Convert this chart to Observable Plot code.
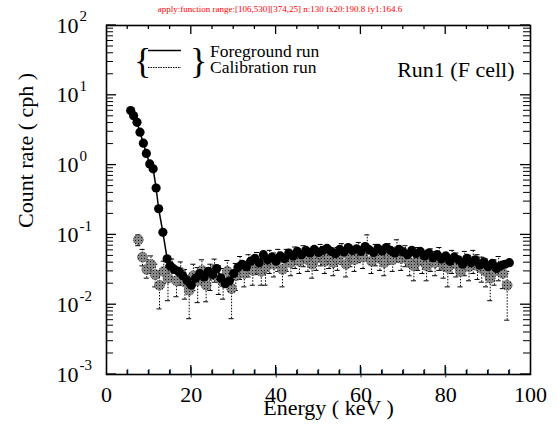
<!DOCTYPE html>
<html>
<head>
<meta charset="utf-8">
<script src="https://cdn.jsdelivr.net/npm/d3@7"></script>
<script src="https://cdn.jsdelivr.net/npm/@observablehq/plot@0.6"></script>
<style>
  html, body { margin: 0; padding: 0; background: #fff; }
  #chart { width: 557px; height: 427px; }
</style>
</head>
<body>
<div id="chart"></div>
<script>
// ---- data ----
const fgEnergy = [5.7, 6.4, 7.2, 7.9, 8.7, 9.4, 10.2, 11.0, 11.7, 12.3, 13.3, 14.3,
  15, 16, 17, 18, 19, 20, 21, 22, 23, 24, 25, 26, 27, 28, 29, 30, 31, 32, 33, 34,
  35, 36, 37, 38, 39, 40, 41, 42, 43, 44, 45, 46, 47, 48, 49, 50, 51, 52, 53, 54,
  55, 56, 57, 58, 59, 60, 61, 62, 63, 64, 65, 66, 67, 68, 69, 70, 71, 72, 73, 74,
  75, 76, 77, 78, 79, 80, 81, 82, 83, 84, 85, 86, 87, 88, 89, 90, 91, 92, 93, 94, 95];
const fgRate = [6.05, 5.1, 4.1, 2.96, 2.06, 1.47, 1.04, 0.885, 0.47, 0.237, 0.109, 0.0455,
  0.036, 0.032, 0.030, 0.026, 0.022, 0.019, 0.024, 0.028, 0.025, 0.030,
  0.027, 0.033, 0.024, 0.020, 0.022, 0.028, 0.034, 0.038, 0.035, 0.042,
  0.046, 0.040, 0.052, 0.044, 0.048, 0.042, 0.050, 0.046, 0.055, 0.050,
  0.058, 0.052, 0.060, 0.055, 0.062, 0.056, 0.060, 0.064, 0.058, 0.054,
  0.062, 0.057, 0.066, 0.060, 0.063, 0.058, 0.068, 0.061, 0.056, 0.064,
  0.059, 0.066, 0.060, 0.055, 0.062, 0.057, 0.052, 0.060, 0.054, 0.058,
  0.050, 0.055, 0.047, 0.052, 0.045, 0.050, 0.042, 0.048, 0.044, 0.038,
  0.046, 0.040, 0.044, 0.037, 0.041, 0.035, 0.039, 0.033, 0.036, 0.038, 0.040];

const calEnergy = [7.5, 8.5, 9.5, 10.5, 11.5, 12.5, 13.5, 14.5, 15.5, 16.5, 17.5, 18.5, 19.5,
  20.5, 21.5, 22.5, 23.5, 24.5, 25.5, 26.5, 27.5, 28.5, 29.5, 30.5, 31.5, 32.5, 33.5, 34.5,
  35.5, 36.5, 37.5, 38.5, 39.5, 40.5, 41.5, 42.5, 43.5, 44.5, 45.5, 46.5, 47.5, 48.5, 49.5,
  50.5, 51.5, 52.5, 53.5, 54.5, 55.5, 56.5, 57.5, 58.5, 59.5, 60.5, 61.5, 62.5, 63.5, 64.5,
  65.5, 66.5, 67.5, 68.5, 69.5, 70.5, 71.5, 72.5, 73.5, 74.5, 75.5, 76.5, 77.5, 78.5, 79.5,
  80.5, 81.5, 82.5, 83.5, 84.5, 85.5, 86.5, 87.5, 88.5, 89.5, 90.5, 91.5, 92.5, 93.5, 94.5];
const calRate = [0.085, 0.048, 0.032, 0.038, 0.027, 0.019, 0.030, 0.024, 0.033, 0.022, 0.029, 0.021, 0.016,
  0.026, 0.022, 0.031, 0.019, 0.026, 0.032, 0.024, 0.021, 0.030, 0.017, 0.026, 0.035, 0.028, 0.037, 0.031,
  0.040, 0.030, 0.034, 0.042, 0.038, 0.045, 0.032, 0.044, 0.040, 0.048, 0.042, 0.050, 0.044, 0.038, 0.046,
  0.052, 0.042, 0.048, 0.040, 0.046, 0.054, 0.038, 0.050, 0.044, 0.056, 0.048, 0.062, 0.042, 0.052, 0.046,
  0.040, 0.054, 0.044, 0.058, 0.046, 0.050, 0.040, 0.036, 0.046, 0.042, 0.036, 0.044, 0.040, 0.046, 0.036,
  0.034, 0.042, 0.038, 0.030, 0.040, 0.035, 0.042, 0.036, 0.033, 0.030, 0.024, 0.030, 0.034, 0.028, 0.019];
const calLow = [0.070, 0.036, 0.024, 0.028, 0.018, 0.0087, 0.020, 0.0114, 0.022, 0.013, 0.019, 0.012, 0.0063,
  0.016, 0.0107, 0.020, 0.011, 0.016, 0.021, 0.014, 0.012, 0.019, 0.0063, 0.016, 0.023, 0.018, 0.025, 0.019,
  0.027, 0.019, 0.019, 0.028, 0.025, 0.030, 0.018, 0.030, 0.026, 0.033, 0.028, 0.035, 0.030, 0.024, 0.031,
  0.036, 0.028, 0.033, 0.026, 0.031, 0.038, 0.025, 0.035, 0.030, 0.040, 0.033, 0.044, 0.028, 0.036, 0.031,
  0.026, 0.038, 0.030, 0.041, 0.031, 0.035, 0.026, 0.022, 0.031, 0.028, 0.022, 0.030, 0.026, 0.031, 0.024,
  0.018, 0.028, 0.025, 0.018, 0.026, 0.022, 0.028, 0.023, 0.021, 0.018, 0.0114, 0.019, 0.022, 0.017, 0.0060];
const calHigh = [0.100, 0.062, 0.044, 0.050, 0.038, 0.030, 0.042, 0.036, 0.045, 0.034, 0.041, 0.032, 0.026,
  0.038, 0.034, 0.044, 0.030, 0.038, 0.045, 0.036, 0.033, 0.043, 0.028, 0.039, 0.049, 0.041, 0.052, 0.045,
  0.056, 0.044, 0.050, 0.060, 0.055, 0.062, 0.048, 0.062, 0.058, 0.067, 0.060, 0.070, 0.063, 0.055, 0.066,
  0.073, 0.060, 0.068, 0.058, 0.066, 0.075, 0.056, 0.070, 0.063, 0.078, 0.068, 0.100, 0.060, 0.073, 0.066,
  0.058, 0.075, 0.063, 0.085, 0.066, 0.070, 0.058, 0.054, 0.066, 0.060, 0.053, 0.063, 0.058, 0.066, 0.053,
  0.050, 0.060, 0.055, 0.045, 0.058, 0.051, 0.060, 0.052, 0.048, 0.045, 0.038, 0.044, 0.049, 0.042, 0.030];

const xTickLabels = [0, 20, 40, 60, 80, 100];
const xMajorTicks = [20, 40, 60, 80];
const xMinorTicks = [5, 10, 15, 25, 30, 35, 45, 50, 55, 65, 70, 75, 85, 90, 95];
const yDecades = [1e-3, 1e-2, 1e-1, 1e0, 1e1, 1e2];
const yExponents = ["-3", "-2", "-1", "0", "1", "2"];
const yMantissas = [2, 3, 4, 5, 6, 7, 8, 9];
const legendLabels = ["Foreground run", "Calibration run"];
const runLabel = "Run1 (F cell)";
const xLabel = "Energy ( keV )";
const yLabel = "Count rate ( cph )";

// ---- build ----
const fg = fgEnergy.map((e, i) => ({e, v: fgRate[i]}));
const cal = calEnergy.map((e, i) => ({e, v: calRate[i], lo: calLow[i], hi: calHigh[i]}));
const yMinor = yDecades.slice(0, -1).flatMap(d => yMantissas.map(m => m * d));
const yLab = yDecades.map((d, i) => ({d, ex: yExponents[i]}));
const serif = "'Liberation Serif', 'Times New Roman', serif";

const W = 557, H = 427, mL = 106, mR = 27, mT = 25, mB = 53;
const xDom = [0, 100], yDom = [1e-3, 1e2];

// tick segment rows (positions are data values; lengths are given in pixels via dx/dy offsets)
const xTickRows = xMajorTicks.map(v => ({v, len: 9})).concat(xMinorTicks.map(v => ({v, len: 4})));
const yTickRows = yDecades.map(v => ({v, len: 10})).concat(yMinor.map(v => ({v, len: 7})));

const chart = Plot.plot({
  width: W,
  height: H,
  marginLeft: mL,
  marginRight: mR,
  marginTop: mT,
  marginBottom: mB,
  style: {fontFamily: serif, background: "white", color: "black"},
  x: {domain: xDom, axis: null},
  y: {type: "log", domain: yDom, axis: null},
  marks: [
    // calibration run error bars
    Plot.ruleX(cal, {x: "e", y1: "lo", y2: "hi", stroke: "black", strokeWidth: 1, strokeDasharray: "1.5,1.5"}),
    Plot.ruleY(cal, {y: "lo", x1: d => d.e - 0.6, x2: d => d.e + 0.6, stroke: "black", strokeWidth: 1}),
    Plot.ruleY(cal, {y: "hi", x1: d => d.e - 0.6, x2: d => d.e + 0.6, stroke: "black", strokeWidth: 1}),
    Plot.dot(cal, {x: "e", y: "v", r: 5, fill: "url(#xhatch)", stroke: "black", strokeWidth: 0.6, strokeDasharray: "1,1"}),
    // foreground run
    Plot.line(fg, {x: "e", y: "v", stroke: "black", strokeWidth: 1.5}),
    Plot.dot(fg, {x: "e", y: "v", r: 4.6, fill: "black", stroke: "none"}),
    // inward ticks drawn as text glyphs placed on the frame edges via the scales
    Plot.text(xTickRows, {x: "v", frameAnchor: "bottom", text: d => d.len > 5 ? "|" : "ı", fontSize: 10, lineAnchor: "bottom", fill: "black", fontFamily: "DejaVu Sans"}),
    Plot.frame({stroke: "black", strokeWidth: 1.6}),
    // tick labels
    Plot.text(xTickLabels, {x: d => d, frameAnchor: "bottom", dy: 27, text: d => String(d), fontSize: 22, fill: "black"}),
    Plot.text(yLab, {y: "d", frameAnchor: "left", dx: -28, textAnchor: "end", text: () => "10", fontSize: 22, fill: "black"}),
    Plot.text(yLab, {y: "d", frameAnchor: "left", dx: -27, dy: -9, textAnchor: "start", text: "ex", fontSize: 15, fill: "black"}),
    // axis labels
    Plot.text([xLabel], {frameAnchor: "bottom", dx: 10, dy: 40, text: d => d, fontSize: 22, fill: "black"}),
    Plot.text([yLabel], {frameAnchor: "left", dx: -81, dy: 28, rotate: -90, text: d => d, fontSize: 22, fill: "black"}),
    // run label
    Plot.text([runLabel], {frameAnchor: "top-right", dx: -16, dy: 36, textAnchor: "end", text: d => d, fontSize: 22, fill: "black"})
  ]
});

const svg = d3.select(chart);

// crosshatch pattern for calibration markers
const defs = svg.insert("defs", ":first-child");
const pat = defs.append("pattern").attr("id", "xhatch").attr("patternUnits", "userSpaceOnUse")
  .attr("width", 3).attr("height", 3);
pat.append("rect").attr("width", 3).attr("height", 3).attr("fill", "white");
pat.append("path").attr("d", "M0,0L3,3M3,0L0,3").attr("stroke", "black").attr("stroke-width", 0.9);

// legend (key): braces, line samples and labels
const lg = svg.append("g").attr("font-family", serif).attr("fill", "black").attr("text-anchor", "start");
lg.append("text").attr("x", 134).attr("y", 73).attr("font-size", 36).text("{");
lg.append("text").attr("x", 190).attr("y", 73).attr("font-size", 36).text("}");
lg.append("line").attr("x1", 148).attr("x2", 181).attr("y1", 50.5).attr("y2", 50.5).attr("stroke", "black").attr("stroke-width", 1.3);
lg.append("line").attr("x1", 148).attr("x2", 181).attr("y1", 67.5).attr("y2", 67.5).attr("stroke", "black").attr("stroke-width", 1).attr("stroke-dasharray", "1.5,1");
legendLabels.forEach((t, i) => {
  lg.append("text").attr("x", 210).attr("y", 57 + i * 15.5).attr("font-size", 17.5).text(t);
});

// inward ticks as lines, positioned with a scale mirroring Plot's (same domain and frame range)
let info = "";
try {
  const sx = chart.scale("x"), sy = chart.scale("y");
  info += "apply:" + typeof sx.apply + " range:" + JSON.stringify(sx.range) + JSON.stringify(sy.range);
} catch (err) { info += "ERR " + err.message; }
const fx = d3.scaleLinear().domain(xDom).range([mL, W - mR]);
const fy = d3.scaleLog().domain(yDom).range([H - mB, mT]);
const tg = svg.append("g");
xTickRows.forEach(({v, len}) => {
  const px = fx(v);
  tg.append("line").attr("x1", px).attr("x2", px).attr("y1", H - mB).attr("y2", H - mB - len).attr("stroke", "black").attr("stroke-width", 1.3);
  tg.append("line").attr("x1", px).attr("x2", px).attr("y1", mT).attr("y2", mT + len).attr("stroke", "black").attr("stroke-width", 1.3);
});
yTickRows.forEach(({v, len}) => {
  const py = fy(v);
  tg.append("line").attr("x1", mL).attr("x2", mL + len).attr("y1", py).attr("y2", py).attr("stroke", "black").attr("stroke-width", len > 8 ? 1.3 : 1);
  tg.append("line").attr("x1", W - mR).attr("x2", W - mR - len).attr("y1", py).attr("y2", py).attr("stroke", "black").attr("stroke-width", len > 8 ? 1.3 : 1);
});
info += " n:" + tg.selectAll("line").size() + " fx20:" + fx(20).toFixed(1) + " fy1:" + fy(1).toFixed(1);
svg.append("text").attr("x", 280).attr("y", 12).attr("font-size", 9).attr("fill", "red").attr("text-anchor", "middle").text(info);

document.getElementById("chart").appendChild(chart);
</script>
</body>
</html>
